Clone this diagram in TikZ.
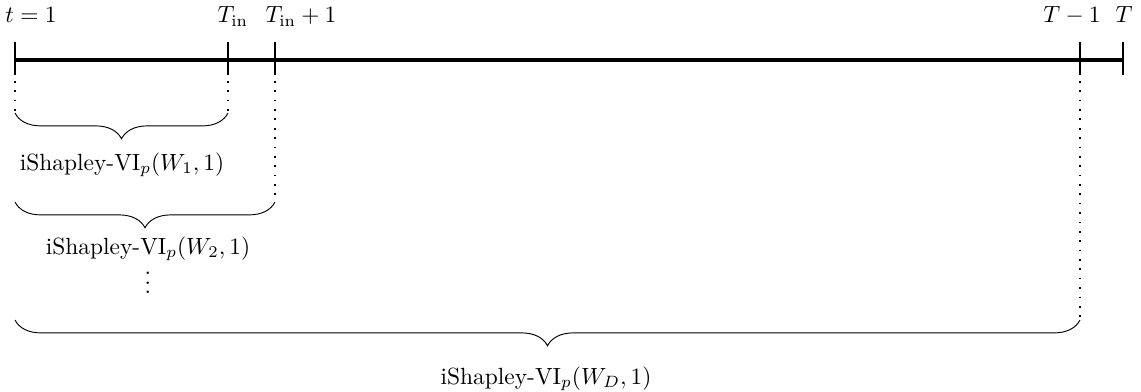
\documentclass[tikz,border=0pt]{standalone}
\usepackage{amsmath,amssymb}
\usetikzlibrary{decorations.pathreplacing,positioning}

\begin{document}
\begin{tikzpicture}[x=0.015cm,y=-0.015cm,
    tick/.style={line width=0.5pt},
    guide/.style={line width=0.6pt,dash pattern=on 0.7pt off 3.3pt},
    brc/.style={decorate,decoration={brace,mirror,amplitude=11pt}}]
  \useasboundingbox (0,0) rectangle (1141,392);
  % time axis
  \draw[line width=1.6pt] (15,60) coordinate (start) -- (1123,60) coordinate (stop);
  \foreach \x/\n in {15/t1,228/tin,275/tin1,1080/tm1,1123/tT}
    \draw[tick] (\x,42) -- (\x,75) coordinate (\n);
  \node[anchor=base] (lt1) at (31,23) {$t=1$};
  \node[anchor=base] (ltin) at (233,23) {$T_{\text{in}}$};
  \node[anchor=base] (ltin1) at (301,23) {$T_{\text{in}}+1$};
  \node[anchor=base] (ltm1) at (1072,23) {$T-1$};
  \node[anchor=base] (lT) at (1124,23) {$T$};
  % windows
  \coordinate (b1l) at (15,113);
  \coordinate (b1r) at (228,113);
  \coordinate (b2l) at (15,202);
  \coordinate (b2r) at (275,202);
  \coordinate (bDl) at (15,320);
  \coordinate (bDr) at (1080,320);
  \draw[guide] (t1) ++(0,6) -- (b1l);
  \draw[guide] (tin) ++(0,6) -- (b1r);
  \draw[guide] (tin1) ++(0,6) -- (b2r);
  \draw[guide] (tm1) ++(0,6) -- (bDr);
  \draw[brc] (b1l) -- (b1r);
  \draw[brc] (b2l) -- (b2r);
  \draw[brc] (bDl) -- (bDr);
  \node (w1) at (122,165) {iShapley-VI$_p(W_1,1)$};
  \node[inner sep=1pt] (w2) at (148,249) {iShapley-VI$_p(W_2,1)$};
  \node[inner sep=0pt] (dots) at (148,276) {$\vdots$};
  \node (wD) at (546,379) {iShapley-VI$_p(W_D,1)$};
\end{tikzpicture}
\end{document}
